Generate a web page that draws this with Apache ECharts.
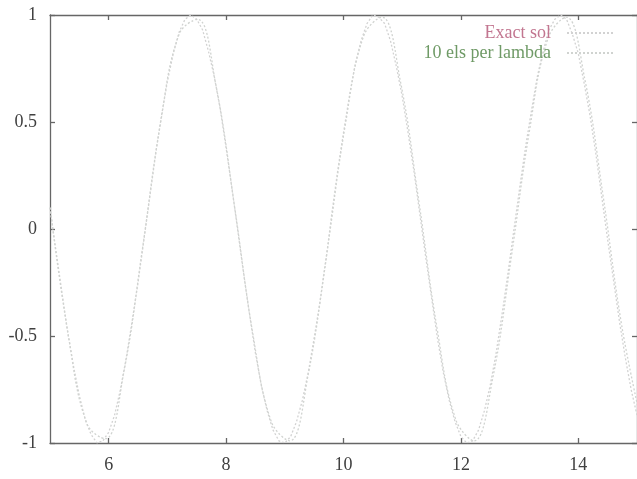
<!DOCTYPE html>
<html>
<head>
<meta charset="utf-8">
<script src="https://cdn.jsdelivr.net/npm/echarts@6/dist/echarts.min.js"></script>
<style>
  html, body { margin: 0; padding: 0; background: #ffffff; }
  #chart { width: 637px; height: 479px; }
</style>
</head>
<body>
<div id="chart"></div>
<script>
// Exact solution, sampled every 0.1 from x = 5 to x = 15
const exactStart = 5;
const exactStep = 0.1;
const exactSol = [
  0.10, -0.10, -0.29, -0.48, -0.64, -0.78, -0.89, -0.96, -1.00, -0.99,
  -0.95, -0.87, -0.75, -0.60, -0.43, -0.25, -0.05, 0.15, 0.35, 0.53,
  0.69, 0.82, 0.92, 0.98, 1.00, 0.98, 0.93, 0.83, 0.71, 0.56,
  0.38, 0.19, -0.01, -0.21, -0.40, -0.58, -0.73, -0.85, -0.94, -0.99,
  -1.00, -0.97, -0.90, -0.80, -0.67, -0.51, -0.34, -0.15, 0.07, 0.27,
  0.45, 0.62, 0.77, 0.88, 0.96, 1.00, 0.99, 0.96, 0.88, 0.76,
  0.62, 0.45, 0.27, 0.07, -0.13, -0.32, -0.51, -0.67, -0.80, -0.90,
  -0.97, -1.00, -0.99, -0.94, -0.85, -0.73, -0.58, -0.40, -0.21, -0.01,
  0.19, 0.38, 0.55, 0.71, 0.83, 0.93, 0.98, 1.00, 0.98, 0.91,
  0.82, 0.68, 0.53, 0.35, 0.15, -0.05, -0.24, -0.43, -0.60, -0.75,
  -0.87
];

// Finite element solution at the mesh nodes, 10 elements per wavelength
const elemStart = 5;
const elemSize = Math.PI / 10;
const elsPerLambda = [
  0.10, -0.50, -0.91, -0.98, -0.67, -0.10, 0.50, 0.91, 0.98, 0.67,
  0.11, -0.49, -0.90, -0.99, -0.68, -0.12, 0.48, 0.90, 0.99, 0.69,
  0.13, -0.47, -0.89, -0.99, -0.70, -0.14, 0.46, 0.89, 0.99, 0.70,
  0.15, -0.45, -0.88
];

const xTicks = [6, 8, 10, 12, 14];
const seriesNames = ['Exact sol', '10 els per lambda'];

const exactData = exactSol.map((v, i) => [exactStart + i * exactStep, v]);
const elemData = elsPerLambda.map((v, i) => [elemStart + i * elemSize, v]);

const fontFamily = '"Liberation Serif", "DejaVu Serif", serif';
const axisColor = '#666666';
const textColor = '#404040';

const chart = echarts.init(document.getElementById('chart'), null, { renderer: 'canvas' });

const baseX = {
  type: 'value',
  min: 5,
  max: 15,
  axisLine: { show: true, onZero: false, lineStyle: { color: axisColor, width: 1.3 } },
  axisTick: { show: true, inside: true, length: 5, customValues: xTicks, lineStyle: { color: axisColor, width: 1.3 } },
  splitLine: { show: false }
};
const baseY = {
  type: 'value',
  min: -1,
  max: 1,
  interval: 0.5,
  axisLine: { show: true, onZero: false, lineStyle: { color: axisColor, width: 1.3 } },
  axisTick: { show: true, inside: true, length: 5, lineStyle: { color: axisColor, width: 1.3 } },
  splitLine: { show: false }
};

const legendCommon = {
  orient: 'horizontal',
  align: 'right',
  right: 22,
  padding: 0,
  itemWidth: 47,
  itemHeight: 14,
  selectedMode: false,
  itemStyle: { color: 'transparent', borderColor: 'transparent', borderWidth: 0 },
  textStyle: { fontFamily: fontFamily, fontSize: 18, padding: [0, 11, 0, 0] }
};

chart.setOption({
  backgroundColor: '#ffffff',
  animation: false,
  grid: { left: 50, top: 15, width: 590, height: 428, containLabel: false },
  legend: [
    Object.assign({}, legendCommon, {
      top: 24,
      data: [{ name: seriesNames[0], textStyle: { color: '#c27690' } }]
    }),
    Object.assign({}, legendCommon, {
      top: 44,
      data: [{ name: seriesNames[1], textStyle: { color: '#6f9a66' } }]
    })
  ],
  xAxis: [
    Object.assign({}, baseX, {
      position: 'bottom',
      axisLabel: {
        show: true, customValues: xTicks, margin: 13,
        color: textColor, fontFamily: fontFamily, fontSize: 18
      }
    }),
    Object.assign({}, baseX, { position: 'top', axisLabel: { show: false } })
  ],
  yAxis: [
    Object.assign({}, baseY, {
      position: 'left',
      axisLabel: { show: true, margin: 13, color: textColor, fontFamily: fontFamily, fontSize: 18 }
    }),
    Object.assign({}, baseY, { position: 'right', axisLabel: { show: false } })
  ],
  series: [
    {
      name: seriesNames[0],
      type: 'line',
      xAxisIndex: 0,
      yAxisIndex: 0,
      data: exactData,
      symbol: 'none',
      smooth: false,
      color: '#d2d2d2',
      lineStyle: { color: '#d2d2d2', width: 1.3, type: [2, 2] }
    },
    {
      name: seriesNames[1],
      type: 'line',
      xAxisIndex: 0,
      yAxisIndex: 0,
      data: elemData,
      symbol: 'none',
      smooth: 0.4,
      color: '#d0d3d0',
      lineStyle: { color: '#d0d3d0', width: 1.3, type: [2, 2] }
    }
  ]
});
</script>
</body>
</html>
